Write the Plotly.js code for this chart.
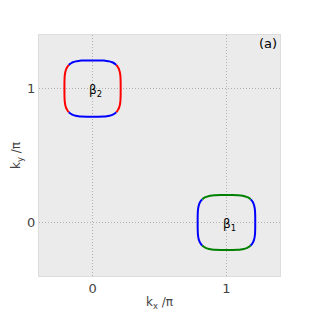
<!DOCTYPE html>
<html><head><meta charset="utf-8">
<script src="https://cdn.plot.ly/plotly-3.0.1.min.js"></script>
<style>html,body{margin:0;padding:0;background:#fff}#c{width:312px;height:312px}</style>
</head><body><div id="c"></div>
<script>
// Quarter of a pocket contour (unit size), first quadrant, from (1,0) to (0,1)
var quarterX = [1, 0.9996, 0.9935, 0.984, 0.966, 0.934, 0.909, 0.877, 0.841, 0.8, 0.75, 0.7, 0.6, 0.5, 0.4, 0.2, 0];
var quarterY = [0, 0.2, 0.4, 0.5, 0.6, 0.7, 0.75, 0.8, 0.841, 0.877, 0.909, 0.934, 0.966, 0.984, 0.9935, 0.9996, 1];
var midIndex = 8; // corner point where the colour changes
// Pockets
var pocketNames = ["β<sub>1</sub>", "β<sub>2</sub>"];
var pocketCx = [1, 0];
var pocketCy = [0, 1];
var pocketRx = [0.215, 0.21];
var pocketRy = [0.205, 0.21];
var sideColors = ["#0000ff", "#ff0000"];   // left/right segments
var capColors = ["#008000", "#0000ff"];    // top/bottom segments
var xTicks = [0, 1];
var yTicks = [0, 1];

var n = quarterX.length - 1;
var traces = [];
for (var p = 0; p < pocketCx.length; p++) {
  var cx = pocketCx[p], cy = pocketCy[p], rx = pocketRx[p], ry = pocketRy[p];
  var sx = [], sy = [], tx = [], ty = [];
  [1, -1].forEach(function (sgn) {
    var i;
    for (i = midIndex; i >= 0; i--) { sx.push(cx + sgn * quarterX[i] * rx); sy.push(cy - quarterY[i] * ry); }
    for (i = 1; i <= midIndex; i++) { sx.push(cx + sgn * quarterX[i] * rx); sy.push(cy + quarterY[i] * ry); }
    sx.push(null); sy.push(null);
    for (i = midIndex; i <= n; i++) { tx.push(cx + quarterX[i] * rx); ty.push(cy + sgn * quarterY[i] * ry); }
    for (i = n - 1; i >= midIndex; i--) { tx.push(cx - quarterX[i] * rx); ty.push(cy + sgn * quarterY[i] * ry); }
    tx.push(null); ty.push(null);
  });
  traces.push({x: sx, y: sy, mode: "lines", line: {color: sideColors[p], width: 2, shape: "spline", smoothing: 0.6}, hoverinfo: "skip"});
  traces.push({x: tx, y: ty, mode: "lines", line: {color: capColors[p], width: 2, shape: "spline", smoothing: 0.6}, hoverinfo: "skip"});
}

var annotations = [];
for (var p2 = 0; p2 < pocketCx.length; p2++) {
  annotations.push({x: pocketCx[p2] + 0.02, y: pocketCy[p2] - 0.02, xref: "x", yref: "y", text: pocketNames[p2],
    showarrow: false, font: {family: "DejaVu Sans", size: 12, color: "#000"}});
}
annotations.push({x: 1, y: 1, xref: "paper", yref: "paper", xanchor: "right", yanchor: "top", xshift: -1, yshift: 1,
  text: "(a)", showarrow: false, font: {family: "DejaVu Sans", size: 13, color: "#000"}});

var axisCommon = {
  range: [-0.4, 1.4], zeroline: false, showgrid: true, gridcolor: "#b0b0b0", griddash: "1px,2px", gridwidth: 1,
  ticks: "", tickfont: {family: "DejaVu Sans", size: 13, color: "#444"},
  showline: true, mirror: true, linecolor: "#dddddd", linewidth: 1, tickmode: "array"
};
var layout = {
  width: 312, height: 312, margin: {l: 39, r: 32, t: 35, b: 36},
  paper_bgcolor: "#ffffff", plot_bgcolor: "#ebebeb", showlegend: false,
  xaxis: Object.assign({}, axisCommon, {tickvals: xTicks, ticktext: xTicks.map(String), ticklabelstandoff: 0,
    title: {text: "k<sub>x</sub> /π", font: {family: "DejaVu Sans", size: 12, color: "#444"}, standoff: 3}}),
  yaxis: Object.assign({}, axisCommon, {tickvals: yTicks, ticktext: yTicks.map(String), ticklabelstandoff: 0,
    title: {text: "k<sub>y</sub> /π", font: {family: "DejaVu Sans", size: 12, color: "#444"}, standoff: 3}}),
  annotations: annotations
};
Plotly.newPlot("c", traces, layout, {staticPlot: true, displayModeBar: false});
</script></body></html>
